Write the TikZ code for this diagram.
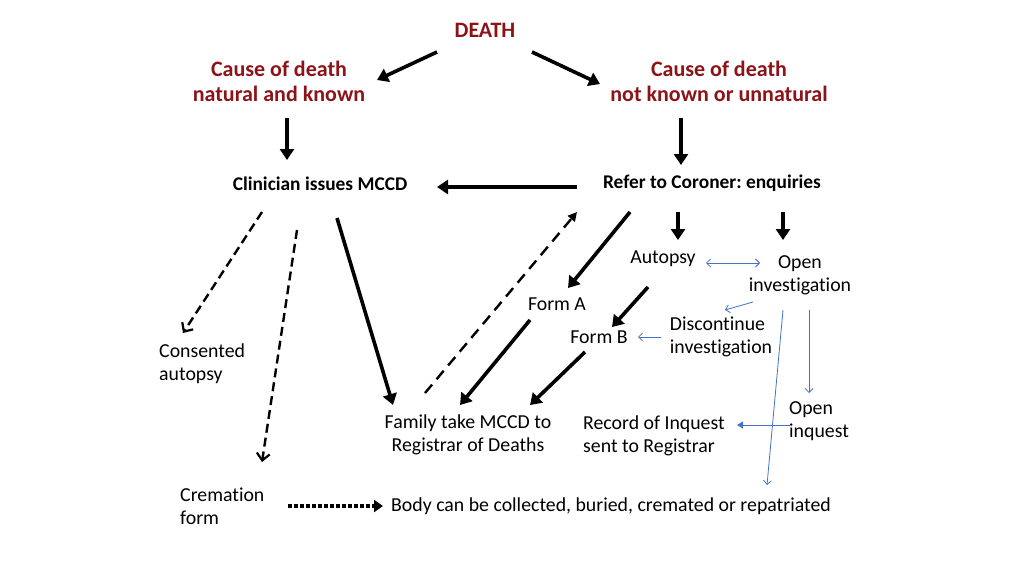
\documentclass[tikz,border=0pt]{standalone}
\usepackage{fontspec}
\setmainfont{Carlito}[Ligatures=NoCommon]
\usepackage{xcolor}
\usepackage{tikz}
\usetikzlibrary{arrows.meta,positioning,calc}
\frenchspacing

\definecolor{deathred}{RGB}{140,20,25}
\definecolor{linkblue}{RGB}{68,114,196}

\begin{document}
\begin{tikzpicture}[x=1pt,y=-1pt,
    every node/.style={inner sep=1pt, font=\fontsize{19.8}{23}\selectfont},
    title/.style={font=\fontsize{22}{25}\selectfont\bfseries, text=deathred, align=center},
    stage/.style={font=\fontsize{19.4}{23}\selectfont\bfseries},
    bigarrow/.style={line width=3.6pt, -{Triangle[length=11pt,width=14pt]}},
    maybearrow/.style={line width=2.4pt, dash pattern=on 9pt off 5pt, -{Straight Barb[length=7pt,width=13pt,line width=2.2pt]}},
    backarrow/.style={line width=2.4pt, dash pattern=on 11pt off 7pt, -{Triangle[length=9pt,width=9pt]}},
    dotarrow/.style={line width=4pt, dash pattern=on 3.5pt off 2.5pt, -{Triangle[length=9pt,width=12pt]}},
    thinlink/.style={draw=linkblue, line width=0.8pt, -{Straight Barb[length=4pt,width=8pt]}}]
\fill[white] (0,0) rectangle (1024,576);
\useasboundingbox (0,0) rectangle (1024,576);

% Top of the chart
\node[title] (death) at (485,30) {DEATH};
\node[title] (natural) at (279,81) {Cause of death\\natural and known};
\node[title] (unnatural) at (719,81) {Cause of death\\not known or unnatural};

% Who deals with it
\node[stage] (clinician) at (320,184) {Clinician issues MCCD};
\node[stage] (coroner) at (712,183) {Refer to Coroner: enquiries};

% Coroner side
\node (autopsy) at (663,259) {Autopsy};
\node[align=center] (openinv) at (800,275) {Open\\investigation};
\node (formA) at (557,304) {Form A};
\node (formB) at (599,337) {Form B};
\node[align=left] (discont) at (721,337) {Discontinue\\investigation};
\node[align=left, anchor=west] (inquest) at (788,421) {Open\\inquest};
\node[align=left, anchor=west] (record) at (582,436) {Record of Inquest\\sent to Registrar};

% Clinician side
\node[align=left, anchor=west] (consent) at (158,364) {Consented\\autopsy};
\node[align=center] (family) at (468,435) {Family take MCCD to\\Registrar of Deaths};
\node[align=left, anchor=west] (cremation) at (179,506) {Cremation\\form};
\node[anchor=west] (body) at (390,506) {Body can be collected, buried, cremated or repatriated};

% Black arrows
\draw[bigarrow] ($(death)+(-48,22)$) -- ($(natural)+(98,-1)$);
\draw[bigarrow] ($(death)+(47,22)$) -- ($(unnatural)+(-119,3)$);
\draw[bigarrow] ($(natural)+(8,37)$) -- ($(clinician)+(-33,-24)$);
\draw[bigarrow] ($(unnatural)+(-38,37)$) -- ($(coroner)+(-31,-18)$);
\draw[bigarrow] ($(coroner)+(-135,4)$) -- ($(clinician)+(117,3)$);
\draw[bigarrow] ($(clinician)+(17,34)$) -- ($(family)+(-75,-30)$);
\draw[bigarrow] ($(coroner)+(-82,29)$) -- ($(formA)+(11,-16)$);
\draw[bigarrow] ($(coroner)+(-34,29)$) -- ($(autopsy)+(15,-19)$);
\draw[bigarrow] ($(coroner)+(71,29)$) -- ($(openinv)+(-17,-35)$);
\draw[bigarrow] ($(autopsy)+(-15,28)$) -- ($(formB)+(13,-10)$);
\draw[bigarrow] ($(formA)+(-27,16)$) -- ($(family)+(-8,-30)$);
\draw[bigarrow] ($(formB)+(-14,15)$) -- ($(family)+(62,-30)$);

% Dashed and dotted ones
\draw[maybearrow] ($(clinician)+(-58,28)$) -- ($(consent.west)+(25,-31)$);
\draw[maybearrow] ($(clinician)+(-23,46)$) -- ($(cremation.west)+(83,-44)$);
\draw[backarrow] ($(family)+(-43,-42)$) -- ($(coroner)+(-135,29)$);
\draw[dotarrow] ($(cremation.west)+(109,0)$) -- ($(body.west)+(-7,0)$);

% Blue links
\draw[thinlink, {Straight Barb[length=4pt,width=8pt]}-{Straight Barb[length=4pt,width=8pt]}] ($(autopsy)+(43,4)$) -- ($(openinv)+(-40,-12)$);
\draw[thinlink] ($(openinv)+(-47,27)$) -- ($(discont)+(4,-27)$);
\draw[thinlink] ($(discont)+(-60,0)$) -- ($(formB)+(39,0)$);
\draw[thinlink] ($(openinv)+(-17,35)$) -- ($(body.west)+(377,-21)$);
\draw[thinlink] ($(openinv)+(9,35)$) -- ($(inquest.west)+(21,-28)$);
\draw[thinlink, -{Triangle[length=6pt,width=7pt]}] ($(inquest.west)+(2,4)$) -- ($(record.west)+(155,-11)$);
\end{tikzpicture}
\end{document}
